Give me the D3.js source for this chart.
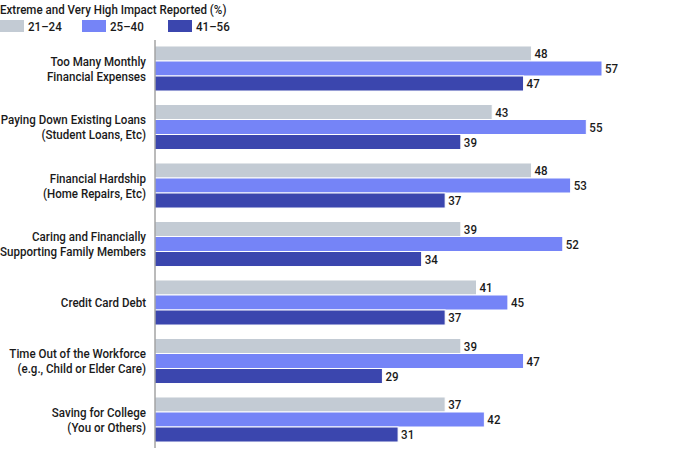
<!DOCTYPE html>
<html>
<head>
<meta charset="utf-8">
<script src="https://cdn.jsdelivr.net/npm/d3@7"></script>
<style>
  body { margin: 0; background: #fff; }
  svg { font-family: Roboto, "DejaVu Sans", sans-serif; font-weight: 500; }
</style>
</head>
<body>
<svg id="chart" width="690" height="450"></svg>
<script>
// chart data
const categories = [
  ['Too Many Monthly', 'Financial Expenses'],
  ['Paying Down Existing Loans', '(Student Loans, Etc)'],
  ['Financial Hardship', '(Home Repairs, Etc)'],
  ['Caring and Financially', 'Supporting Family Members'],
  ['Credit Card Debt'],
  ['Time Out of the Workforce', '(e.g., Child or Elder Care)'],
  ['Saving for College', '(You or Others)']
];
const seriesNames = ['21–24', '25–40', '41–56'];
const seriesColors = ['#c3cbd4', '#7584f7', '#3b46ae'];
const age21to24 = [48, 43, 48, 39, 41, 39, 37];
const age25to40 = [57, 55, 53, 52, 45, 47, 42];
const age41to56 = [47, 39, 37, 34, 37, 29, 31];
const title = 'Extreme and Very High Impact Reported (%)';

const series = [age21to24, age25to40, age41to56];
const svg = d3.select('#chart');
const FS = 13, SX = 0.89; // narrow the font to look condensed

// text placed at (x,y) and squeezed horizontally
function label(sel, x, y, str, anchor) {
  return sel.append('text')
    .attr('transform', `translate(${x},${y}) scale(${SX},1)`)
    .attr('text-anchor', anchor || 'start')
    .attr('dy', '0.36em').attr('font-size', FS).attr('fill', '#1a1a1a')
    .text(str);
}

const x = d3.scaleLinear().domain([0, 57]).range([155, 602]);
const keys = categories.map((c, i) => i);
const y = d3.scaleBand().domain(keys).range([39.25, 448.75]).paddingInner(0.23).paddingOuter(0.115);
const ySub = d3.scaleBand().domain([0, 1, 2]).range([0, y.bandwidth()]);

// title + legend
label(svg, 0, 9, title);
const lg = svg.selectAll('g.legend').data(seriesNames).enter().append('g')
  .attr('transform', (d, i) => `translate(${[0, 82, 168][i]},20)`);
lg.append('rect').attr('width', 24).attr('height', 12).attr('fill', (d, i) => seriesColors[i]);
lg.each(function(d) { label(d3.select(this), 28, 6.5, d); });

// bars
const groups = svg.selectAll('g.grp').data(keys).enter().append('g')
  .attr('transform', d => `translate(0,${y(d)})`);
series.forEach((vals, s) => {
  groups.append('rect')
    .attr('x', x(0)).attr('y', ySub(s))
    .attr('width', d => x(vals[d]) - x(0)).attr('height', ySub.bandwidth())
    .attr('fill', seriesColors[s]).attr('stroke', '#fff').attr('stroke-width', 1);
  groups.each(function(d) {
    label(d3.select(this), x(vals[d]) + 3, ySub(s) + ySub.bandwidth() / 2, vals[d]);
  });
});

// category labels
groups.each(function(d) {
  const lines = categories[d];
  const cy = y.bandwidth() / 2;
  lines.forEach((ln, j) => {
    label(d3.select(this), 146, cy + (j - (lines.length - 1) / 2) * 15, ln, 'end');
  });
});

// axis line
svg.append('line').attr('x1', x(0)).attr('x2', x(0)).attr('y1', 40).attr('y2', 448)
  .attr('stroke', '#777').attr('stroke-width', 1);
</script>
</body>
</html>
